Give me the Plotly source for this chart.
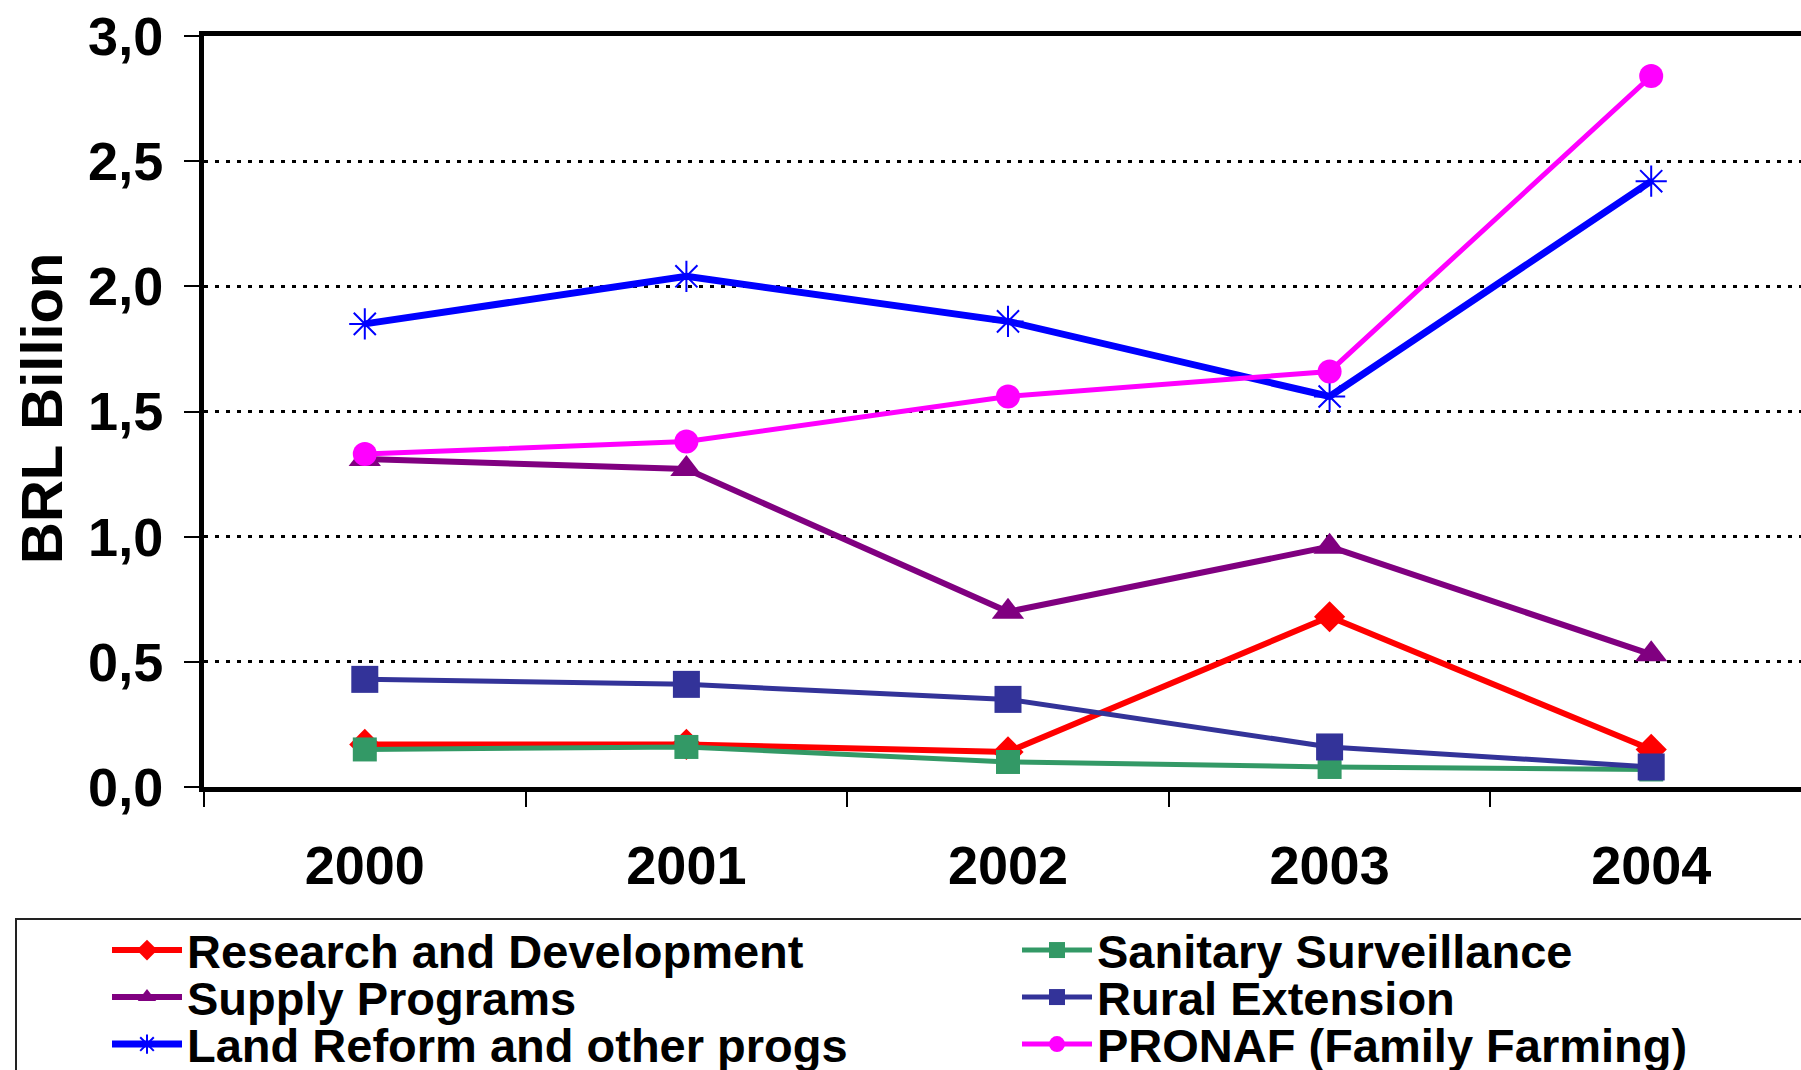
import plotly.graph_objects as go

# ---- data ----
years = ["2000", "2001", "2002", "2003", "2004"]
research_dev = [0.17, 0.17, 0.14, 0.68, 0.15]
sanitary = [0.15, 0.16, 0.10, 0.08, 0.07]
supply = [1.31, 1.27, 0.70, 0.96, 0.53]
rural_ext = [0.43, 0.41, 0.35, 0.16, 0.08]
land_reform = [1.85, 2.04, 1.86, 1.56, 2.42]
pronaf = [1.33, 1.38, 1.56, 1.66, 2.84]
y_ticks = [0, 0.5, 1.0, 1.5, 2.0, 2.5, 3.0]

# ---- layout geometry (pixels) ----
W, H = 1801, 1070
L, T, BOT = 204, 36, 787
plot_w = W - L
plot_h = BOT - T
unit = 321.6  # px per category
x_max = -0.5 + plot_w / unit


def px_x(p):
    return (p - L) / plot_w


def px_y(p):
    return (BOT - p) / plot_h


FONT = "Liberation Sans, Arial, sans-serif"
LEG_FS = 47
ITEM_W = 70

series = [
    # name, values, color, symbol, size, width, col, row
    ("Research and Development", research_dev, "#FF0000", "diamond", 24, 6, 0, 0),
    ("Sanitary Surveillance", sanitary, "#339966", "square", 24, 5, 1, 0),
    ("Supply Programs", supply, "#800080", "triangle-up", 28, 6, 0, 1),
    ("Rural Extension", rural_ext, "#333399", "square", 27, 5, 1, 1),
    ("Land Reform and other progs", land_reform, "#0000FF", "asterisk-open", 26, 7, 0, 2),
    ("PRONAF (Family Farming)", pronaf, "#FF00FF", "circle", 24, 5, 1, 2),
]

row_centers = [950, 997, 1044]
col_text_x = [187, 1097]
text_gap = ITEM_W + 10

fig = go.Figure()
legend_layouts = {}
for i, (name, vals, color, sym, size, lw, col, row) in enumerate(series):
    lname = "legend" if i == 0 else f"legend{i + 1}"
    fig.add_trace(go.Scatter(
        x=years, y=vals, name=name, mode="lines+markers",
        line=dict(color=color, width=lw),
        marker=dict(color=color, symbol=sym, size=size,
                    line=dict(color=color, width=2 if "open" in sym else 0)),
        legend=lname,
    ))
    legend_layouts[lname] = dict(
        x=px_x(col_text_x[col] - text_gap), xanchor="left",
        y=px_y(row_centers[row] - 37), yanchor="top",
        orientation="v", bgcolor="rgba(0,0,0,0)", borderwidth=0,
        itemwidth=ITEM_W,
        font=dict(family=FONT, size=LEG_FS, color="black", weight="bold"),
    )

fig.update_layout(
    width=W, height=H,
    margin=dict(l=L, r=0, t=T, b=H - BOT, autoexpand=False),
    paper_bgcolor="white", plot_bgcolor="white",
    separators=",.",
    showlegend=True,
    **legend_layouts,
    xaxis=dict(
        type="category", range=[-0.5, x_max],
        showline=True, linewidth=5, linecolor="black", mirror=True,
        ticks="outside", tickson="boundaries", ticklen=15, tickwidth=2, tickcolor="black",
        showgrid=False, zeroline=False,
        tickfont=dict(family=FONT, size=54, color="black", weight="bold"),
        ticklabelstandoff=27,
    ),
    yaxis=dict(
        range=[0, 3], tickvals=y_ticks, tickformat=".1f",
        showline=True, linewidth=5, linecolor="black",
        ticks="outside", ticklen=15, tickwidth=2, tickcolor="black",
        showgrid=True, gridcolor="black", gridwidth=3, griddash="4px,7px",
        zeroline=False,
        tickfont=dict(family=FONT, size=54, color="black", weight="bold"),
        ticklabelstandoff=10,
    ),
    shapes=[dict(
        type="rect", xref="paper", yref="paper",
        x0=px_x(16), x1=px_x(1830), y0=px_y(1100), y1=px_y(919),
        line=dict(color="#222222", width=2), fillcolor="rgba(0,0,0,0)", layer="below",
    )],
    annotations=[dict(
        text="BRL Billion", xref="paper", yref="paper",
        x=px_x(41), y=px_y(409), xanchor="center", yanchor="middle",
        textangle=-90, showarrow=False,
        font=dict(family=FONT, size=58, color="black", weight="bold"),
    )],
)

fig.write_html("out.html")
